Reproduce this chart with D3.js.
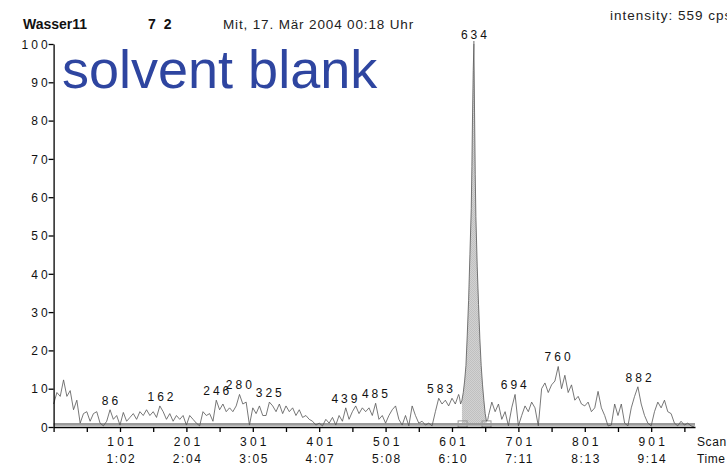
<!DOCTYPE html>
<html>
<head>
<meta charset="utf-8">
<script src="https://cdn.jsdelivr.net/npm/d3@7"></script>
<style>
  body { margin: 0; background: #fff; }
  svg { display: block; font-family: "Liberation Sans", Arial, sans-serif; }
  .axis path, .axis line { stroke: #000; stroke-width: 1.3; }
  .axis text { font-size: 12px; fill: #111; }
</style>
</head>
<body>
<svg id="chart" width="727" height="465"></svg>
<script>
// Noise trace, one value every 5 scans starting at scan 1
const traceStart = 1;
const traceStep = 5;
const trace = [
  6, 9, 8, 12.3, 8, 9.5, 4.5, 7, 1, 3.5,
  4, 1.5, 3.5, 4, 1, 0.3, 1.5, 4.5, 2, 3,
  0.5, 3.8, 1.5, 2.5, 3.5, 2, 4, 3, 4.5, 3,
  4, 2.5, 5.5, 4, 2, 3.5, 1.5, 3, 2, 3,
  0.5, 3, 2, 1, 0.3, 4, 3, 3.5, 1.5, 7,
  4.5, 6, 4, 5, 4, 5.5, 8.5, 6, 6.5, 0.5,
  5, 3.5, 5.5, 3, 3, 6.5, 5.5, 4, 6, 3.5,
  5.5, 4, 5, 3, 4.5, 2.5, 3, 2, 1.5, 0.5,
  1, 0.3, 2, 1, 2.5, 0.5, 3, 1.5, 5, 2,
  4, 5.5, 3.5, 5, 4, 5, 3, 6.2, 2, 3,
  1, 3, 4.5, 5.5, 2, 0.5, 3, 0.3, 5.5, 3,
  1, 1.5, 0.5, 1, 0.3, 4, 7.5, 6, 7, 5.5,
  7.5, 6, 8.5, 7, 20, 50, 90, 50, 22, 10,
  3.5, 3, 6.5, 4, 6, 2, 4, 0.3, 5, 8.5,
  0.3, 3, 5.5, 4, 6.5, 5, 0.3, 10, 11.5, 9,
  11, 12, 15.8, 10, 13.5, 9, 11, 7, 8, 6,
  5.5, 6.5, 4, 5, 9.3, 5, 3, 0.3, 0.5, 6,
  3, 6, 1, 0.3, 5, 8, 10.5, 6, 3, 1,
  0.3, 4, 6.5, 5, 7, 4, 3.5, 1, 0.3, 1.5,
  0.5, 1, 0.3, 0
];

// Main peak at finer resolution
const peakScans = [612, 614, 616, 618, 620, 622, 624, 626, 628, 630, 631, 632, 633, 634,
                   635, 636, 637, 639, 641, 643, 645, 647, 649, 651, 653, 655];
const peakVals  = [8, 6, 7, 9, 12, 16, 24, 33, 45, 57, 68, 82, 93, 100,
                   82, 66, 55, 42, 32, 23, 16, 11, 7, 3.5, 1.5, 2];
const integStart = 617;
const integEnd = 653;

const peakLabels = [86, 162, 246, 280, 325, 439, 485, 583, 634, 694, 760, 882];

const yTicks = [0, 10, 20, 30, 40, 50, 60, 70, 80, 90, 100];
const xTicks = [1, 51, 101, 151, 201, 251, 301, 351, 401, 451, 501, 551, 601, 651, 701, 751, 801, 851, 901, 951];
const scanLabels = [101, 201, 301, 401, 501, 601, 701, 801, 901];
const timeLabels = ['1:02', '2:04', '3:05', '4:07', '5:08', '6:10', '7:11', '8:13', '9:14'];
const baselineLevel = 0.7;

const svg = d3.select('#chart');

const x = d3.scaleLinear().domain([1, 967]).range([53.6, 695]);
const y = d3.scaleLinear().domain([0, 100]).range([427, 44]);

// merge coarse trace with the fine peak
const coarse = trace.map((v, i) => ({ scan: traceStart + i * traceStep, v }))
  .filter(d => d.scan < peakScans[0] || d.scan > peakScans[peakScans.length - 1]);
const fine = peakScans.map((s, i) => ({ scan: s, v: peakVals[i] }));
const points = coarse.concat(fine).sort((a, b) => a.scan - b.scan);

// header
svg.append('text').attr('x', 23).attr('y', 29).attr('font-size', 14).attr('font-weight', 'bold')
  .attr('fill', '#111').text('Wasser11');
svg.append('text').attr('x', 148).attr('y', 29).attr('font-size', 14).attr('font-weight', 'bold')
  .attr('letter-spacing', 2).attr('fill', '#111').text('7 2');
svg.append('text').attr('x', 223).attr('y', 29).attr('font-size', 13.5).attr('letter-spacing', 0.85)
  .attr('fill', '#222').text('Mit, 17. Mär 2004 00:18 Uhr');
svg.append('text').attr('x', 610).attr('y', 20).attr('font-size', 13.5).attr('letter-spacing', 1)
  .attr('fill', '#222').text('intensity: 559 cps');

// stipple pattern for the integrated peak
const defs = svg.append('defs');
const pat = defs.append('pattern').attr('id', 'stip').attr('width', 2).attr('height', 2)
  .attr('patternUnits', 'userSpaceOnUse');
pat.append('rect').attr('width', 2).attr('height', 2).attr('fill', '#d2d2d2');
pat.append('rect').attr('width', 1).attr('height', 1).attr('fill', '#c0c0c0');
pat.append('rect').attr('x', 1).attr('y', 1).attr('width', 1).attr('height', 1).attr('fill', '#c0c0c0');

// peak fill
const peakPts = points.filter(d => d.scan >= integStart - 1 && d.scan <= integEnd);
svg.append('path')
  .datum(peakPts)
  .attr('fill', 'url(#stip)')
  .attr('d', d3.area().x(d => x(d.scan)).y0(y(baselineLevel)).y1(d => y(d.v)));

// baseline band
svg.append('line')
  .attr('x1', x(1)).attr('x2', x(967))
  .attr('y1', y(baselineLevel)).attr('y2', y(baselineLevel))
  .attr('stroke', '#9a9a9a').attr('stroke-width', 2.8);

// integration markers
[integStart, integEnd].forEach(s => {
  svg.append('rect')
    .attr('x', x(s) - 4.5).attr('y', y(1.6))
    .attr('width', 9).attr('height', y(0) - y(1.6))
    .attr('fill', 'none').attr('stroke', '#999').attr('stroke-width', 1);
});

// trace
svg.append('path')
  .datum(points)
  .attr('fill', 'none')
  .attr('stroke', '#555')
  .attr('stroke-width', 0.8)
  .attr('d', d3.line().x(d => x(d.scan)).y(d => y(d.v)));

// axes
const yAxis = svg.append('g').attr('class', 'axis')
  .attr('transform', `translate(${x(1)},0)`)
  .call(d3.axisLeft(y).tickValues(yTicks).tickSize(5).tickSizeOuter(0).tickPadding(0));
yAxis.selectAll('text').attr('dy', '0.35em').attr('x', -3).attr('letter-spacing', 3);

const xAxis = svg.append('g').attr('class', 'axis')
  .attr('transform', `translate(0,${y(0)})`)
  .call(d3.axisBottom(x).tickValues(xTicks).tickSize(5).tickSizeOuter(0)
    .tickFormat(d => scanLabels.includes(d) ? d : ''));
xAxis.selectAll('.tick text').attr('y', 10).attr('dy', '0.71em')
  .attr('letter-spacing', 3.2).attr('dx', 1.6);
xAxis.selectAll('.tick').filter(d => scanLabels.includes(d))
  .append('text')
  .attr('y', 27).attr('dy', '0.71em').attr('dx', 0.8)
  .attr('letter-spacing', 1.6)
  .attr('fill', '#111')
  .text(d => timeLabels[scanLabels.indexOf(d)]);

svg.append('text').attr('x', 697).attr('y', y(0) + 19).attr('font-size', 12)
  .attr('letter-spacing', 0.6).attr('fill', '#111').text('Scan');
svg.append('text').attr('x', 697).attr('y', y(0) + 36).attr('font-size', 12)
  .attr('letter-spacing', 0.6).attr('fill', '#111').text('Time');

// peak labels
const peakMax = s => d3.max(points.filter(d => Math.abs(d.scan - s) <= 3), d => d.v);
const lab = svg.append('g');
peakLabels.forEach(s => {
  const top = y(peakMax(s));
  lab.append('text')
    .attr('x', x(s) + 1.5).attr('y', top - 5)
    .attr('text-anchor', 'middle')
    .attr('font-size', 12).attr('letter-spacing', 3).attr('fill', '#111')
    .text(s);
  if (s === 634) {
    lab.append('line').attr('x1', x(s)).attr('x2', x(s))
      .attr('y1', top - 3).attr('y2', top).attr('stroke', '#444').attr('stroke-width', 0.8);
  }
});

// annotation
svg.append('text').attr('x', 62).attr('y', 88)
  .attr('font-size', 54).attr('fill', '#2e45a0')
  .text('solvent blank');
</script>
</body>
</html>
